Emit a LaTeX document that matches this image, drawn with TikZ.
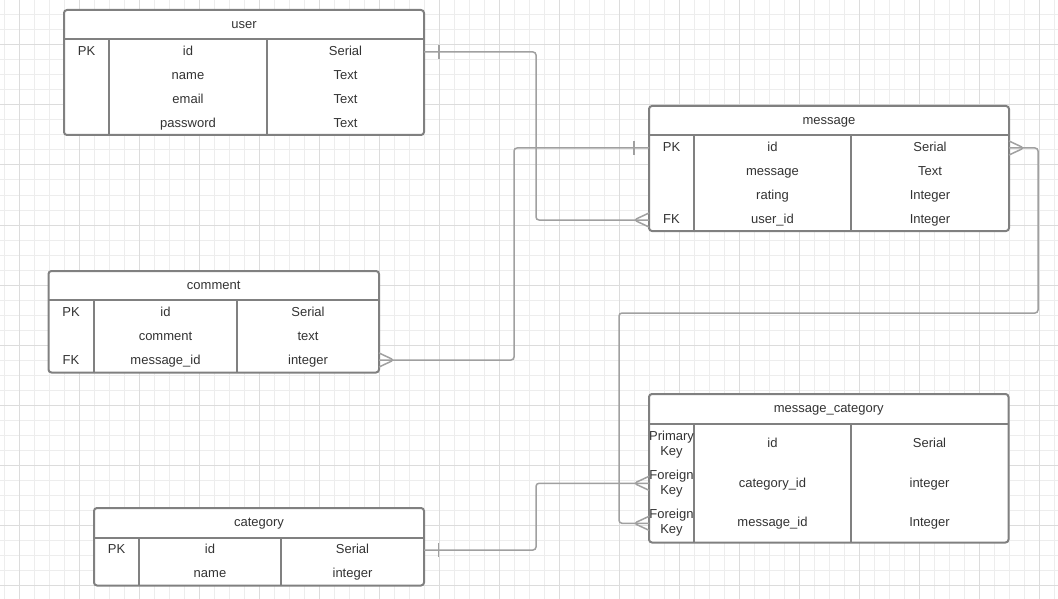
\documentclass[tikz,border=0pt]{standalone}
\usepackage{fontspec}
\setmainfont{Liberation Sans}
\usetikzlibrary{calc}
\definecolor{gridminor}{HTML}{EDEDED}
\definecolor{gridmajor}{HTML}{DCDCDC}
\definecolor{boxc}{HTML}{808080}
\definecolor{connc}{HTML}{A0A0A0}
\definecolor{txtc}{HTML}{333333}
\newcommand\ertable[8]{%
  \node[ebox, minimum width={(#4-#2)*1pt}, minimum height={(#5-#3)*1pt}] (#1) at (#2,#3) {};
  \draw[eline] (#2,#6) -- (#4,#6);
  \draw[eline] (#7,#6) -- (#7,#5);
  \draw[eline] (#8,#6) -- (#8,#5);
}
\newcommand\crowfoot[2]{\draw[conn] ($(#1)+(0,-7)$) -- ($(#1)+(#2*15,0)$) -- ($(#1)+(0,7)$);}
\newcommand\onebar[2]{\draw[conn] ($(#1)+(#2,-7)$) -- ($(#1)+(#2,7)$);}
\begin{document}
\begin{tikzpicture}[x=1pt,y=-1pt,
  ebox/.style={draw=boxc, line width=2pt, rounded corners=3pt, fill=white, anchor=north west, inner sep=0pt, outer sep=0pt},
  eline/.style={draw=boxc, line width=2pt},
  txt/.style={font=\fontsize{13}{16}\selectfont, text=txtc, inner sep=0pt, text height=9.3pt, text depth=0pt},
  conn/.style={draw=connc, line width=1.5pt, rounded corners=3pt},
  minorline/.style={draw=gridminor, line width=1pt},
  majorline/.style={draw=gridmajor, line width=1pt}]
\useasboundingbox (0,0) rectangle (1058,599);
\fill[white] (0,0) rectangle (1058,599);
% grid
\foreach \x in {4,19,...,1054} \draw[minorline] (\x,0) -- (\x,599);
\foreach \y in {0,15,...,599} \draw[minorline] (0,\y) -- (1058,\y);
\foreach \x in {19,79,...,1054} \draw[majorline] (\x,0) -- (\x,599);
\foreach \y in {45,105,...,599} \draw[majorline] (0,\y) -- (1058,\y);

% user
\ertable{user}{64}{10}{424}{135}{39}{109}{267}
\node[txt] (u-h) at (244,23.7) {user};
\node[txt] (u-pk) at (86.5,50.7) {PK};
\node[txt] (u-id) at (188,50.7) {id};
\node[txt] (u-idt) at (345.5,50.7) {Serial};
\node[txt] (u-name) at (188,74.7) {name};
\node[txt] (u-namet) at (345.5,74.7) {Text};
\node[txt] (u-email) at (188,98.7) {email};
\node[txt] (u-emailt) at (345.5,98.7) {Text};
\node[txt] (u-pw) at (188,122.5) {password};
\node[txt] (u-pwt) at (345.5,122.5) {Text};

% message
\ertable{message}{649}{106}{1009}{231}{135.5}{694}{851}
\node[txt] (m-h) at (829,120) {message};
\node[txt] (m-pk) at (671.5,147) {PK};
\node[txt] (m-id) at (772.5,147) {id};
\node[txt] (m-idt) at (930,147) {Serial};
\node[txt] (m-msg) at (772.5,171) {message};
\node[txt] (m-msgt) at (930,171) {Text};
\node[txt] (m-rat) at (772.5,195) {rating};
\node[txt] (m-ratt) at (930,195) {Integer};
\node[txt] (m-fk) at (671.5,218.7) {FK};
\node[txt] (m-uid) at (772.5,218.7) {user\_id};
\node[txt] (m-uidt) at (930,218.7) {Integer};

% comment
\ertable{comment}{48.5}{271}{379}{372.5}{300}{94}{237}
\node[txt] (c-h) at (213.7,285.3) {comment};
\node[txt] (c-pk) at (71,312) {PK};
\node[txt] (c-id) at (165.5,312) {id};
\node[txt] (c-idt) at (308,312) {Serial};
\node[txt] (c-com) at (165.5,336) {comment};
\node[txt] (c-comt) at (308,336) {text};
\node[txt] (c-fk) at (71,360) {FK};
\node[txt] (c-mid) at (165.5,360) {message\_id};
\node[txt] (c-midt) at (308,360) {integer};

% message_category
\ertable{mc}{649}{394}{1008.5}{542.5}{423.5}{694}{851}
\node[txt] (mc-h) at (828.7,408) {message\_category};
\node[txt] (mc-pk1) at (671.5,435.4) {Primary};
\node[txt] (mc-pk2) at (671.5,451.3) {Key};
\node[txt] (mc-id) at (772.5,442.7) {id};
\node[txt] (mc-idt) at (929.5,442.7) {Serial};
\node[txt] (mc-fk1) at (671.5,474.7) {Foreign};
\node[txt] (mc-fk2) at (671.5,490.3) {Key};
\node[txt] (mc-cid) at (772.5,482.7) {category\_id};
\node[txt] (mc-cidt) at (929.5,482.7) {integer};
\node[txt] (mc-fk3) at (671.5,513.7) {Foreign};
\node[txt] (mc-fk4) at (671.5,529.3) {Key};
\node[txt] (mc-mid) at (772.5,522) {message\_id};
\node[txt] (mc-midt) at (929.5,522) {Integer};

% category
\ertable{category}{94}{508}{424}{585.5}{537.5}{139}{281}
\node[txt] (cat-h) at (259,521.7) {category};
\node[txt] (cat-pk) at (116.5,548.7) {PK};
\node[txt] (cat-id) at (210,548.7) {id};
\node[txt] (cat-idt) at (352.5,548.7) {Serial};
\node[txt] (cat-name) at (210,572.7) {name};
\node[txt] (cat-namet) at (352.5,572.7) {integer};

% connector end points
\coordinate (p1a) at ($(user.east |- u-id)+(0,1.3)$);
\coordinate (p1b) at ($(message.west |- m-fk)+(0,1.3)$);
\coordinate (p2a) at ($(message.west |- m-pk)+(0,1)$);
\coordinate (p2b) at (comment.east |- c-fk);
\coordinate (p3a) at ($(message.east |- m-pk)+(0,1)$);
\coordinate (p3b) at ($(mc.west |- mc-mid)+(0,1.3)$);
\coordinate (p4a) at ($(category.east |- cat-id)+(0,1.3)$);
\coordinate (p4b) at ($(mc.west |- mc-cid)+(0,0.6)$);

% connectors
\draw[conn] (p1a) -- (536,52) -- (536,220) -- (p1b);
\onebar{p1a}{15}
\crowfoot{p1b}{-1}

\draw[conn] (p2a) -- (514,148) -- (514,360) -- (p2b);
\onebar{p2a}{-15}
\crowfoot{p2b}{1}

\draw[conn] (p3a) -- (1038,148) -- (1038,313) -- (619,313) -- (619,523.3) -- (p3b);
\crowfoot{p3a}{1}
\crowfoot{p3b}{-1}

\draw[conn] (p4a) -- (536,550) -- (536,483.3) -- (p4b);
\onebar{p4a}{14.5}
\crowfoot{p4b}{-1}
\end{tikzpicture}
\end{document}
